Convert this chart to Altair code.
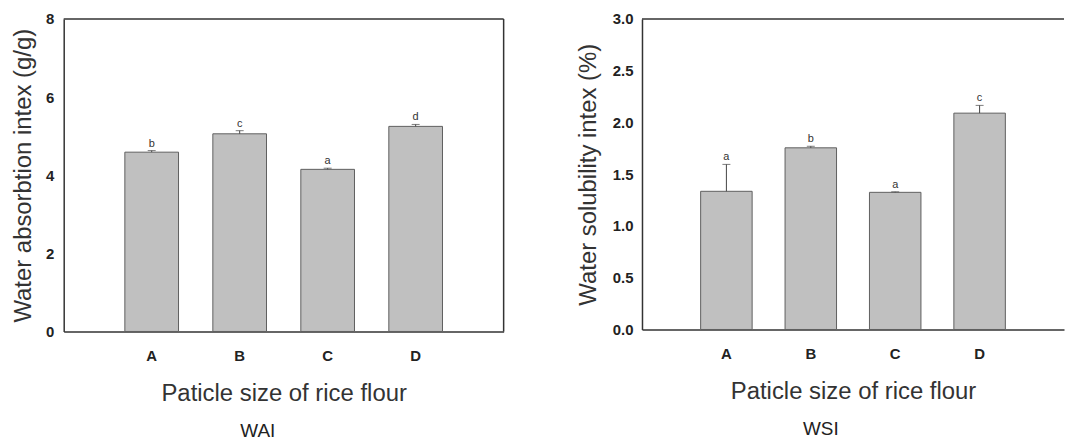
import altair as alt
import pandas as pd

categories = ["A", "B", "C", "D"]

wai_values = [4.59, 5.06, 4.15, 5.25]
wai_errors = [0.04, 0.08, 0.03, 0.05]
wai_letters = ["b", "c", "a", "d"]
wai_ticks = [0, 2, 4, 6, 8]

wsi_values = [1.335, 1.755, 1.325, 2.09]
wsi_errors = [0.26, 0.015, 0.005, 0.075]
wsi_letters = ["a", "b", "a", "c"]
wsi_ticks = [0.0, 0.5, 1.0, 1.5, 2.0, 2.5, 3.0]

x_title = "Paticle size of rice flour"
FONT = "Liberation Sans"


def panel(values, errors, letters, ticks, ymax, ytitle, fmt, title, w, h,
          label_pad, title_pad, right_border):
    df = pd.DataFrame({"cat": categories, "val": values, "err": errors, "lab": letters})
    df["up"] = df["val"] + df["err"]

    xaxis = alt.Axis(title=x_title, labelAngle=0, ticks=False, labelPadding=17,
                     titlePadding=18)
    xscale = alt.Scale(paddingInner=0.39, paddingOuter=0.695)
    yaxis = alt.Axis(title=ytitle, values=ticks, format=fmt, ticks=False, grid=False,
                     labelPadding=label_pad, titlePadding=title_pad)
    yscale = alt.Scale(domain=[0, ymax], nice=False, zero=True)

    def X():
        return alt.X("cat:N", sort=categories, scale=xscale, axis=xaxis)

    def Y(field):
        return alt.Y(field, scale=yscale, axis=yaxis)

    base = alt.Chart(df)
    bars = base.mark_bar(color="#c0c0c0", stroke="#5f5f5f", strokeWidth=1).encode(
        x=X(), y=Y("val:Q"))
    err = base.mark_rule(color="#444444", strokeWidth=1).encode(
        x=X(), y=Y("val:Q"), y2="up:Q")
    cap = base.mark_tick(color="#444444", size=8, thickness=1).encode(
        x=X(), y=Y("up:Q"))
    txt = base.mark_text(baseline="alphabetic", dy=-4, fontSize=11, color="#333333",
                         font=FONT).encode(x=X(), y=Y("up:Q"), text="lab:N")

    fdf = pd.DataFrame({"k": [0]})
    layers = [bars, err, cap, txt]
    top = alt.Chart(fdf).mark_rule(color="#333333", strokeWidth=1.5).encode(
        x=alt.value(0), x2=alt.value(w), y=alt.value(0))
    layers.append(top)
    if right_border:
        right = alt.Chart(fdf).mark_rule(color="#333333", strokeWidth=1.5).encode(
            x=alt.value(w), y=alt.value(0), y2=alt.value(h))
        layers.append(right)

    return alt.layer(*layers).properties(
        width=w, height=h,
        title=alt.TitleParams(text=title, orient="bottom", anchor="middle",
                              frame="bounds", fontSize=19, font=FONT,
                              fontWeight="normal", color="#222222", offset=17),
    )


left = panel(wai_values, wai_errors, wai_letters, wai_ticks, 8,
             "Water absorbtion intex (g/g)", "d", "WAI", 442, 314, 10, 10.5, True)
right = panel(wsi_values, wsi_errors, wsi_letters, wsi_ticks, 3.0,
              "Water solubility intex (%)", ".1f", "WSI", 424, 312, 9, 11.5, False)

chart = alt.hconcat(left, right, spacing=71).configure(
    padding={"left": 10, "top": 10, "right": 0, "bottom": 0},
    background="white",
).configure_view(stroke="transparent").configure_axis(
    domainColor="#333333", domainWidth=1.5,
    labelFont=FONT, labelFontWeight="bold", labelFontSize=15, labelColor="#222222",
    titleFont=FONT, titleFontSize=24, titleFontWeight="normal", titleColor="#333333",
)

chart.save("out.html", embed_options={"renderer": "svg", "actions": False})
